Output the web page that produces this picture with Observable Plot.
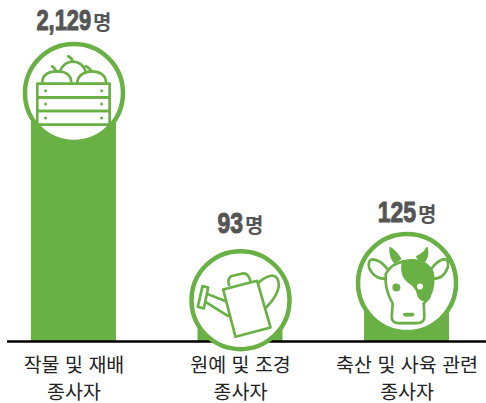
<!DOCTYPE html>
<html lang="ko">
<head>
<meta charset="utf-8">
<script src="https://cdn.jsdelivr.net/npm/d3@7"></script>
<script src="https://cdn.jsdelivr.net/npm/@observablehq/plot@0.6"></script>
<style>html,body{margin:0;padding:0;background:#fff}svg{display:block}</style>
</head>
<body>
<div id="chart"></div>
<script>
const categories = ["작물 및 재배\n종사자", "원예 및 조경\n종사자", "축산 및 사육 관련\n종사자"];
const workers = [2129, 93, 125];
const unit = "명";

const green = "#69B045", grey = "#555555";
const rows = categories.map((category, i) => ({category, workers: workers[i]}));

function icon(viewBox, body) {
  const svg = `<svg xmlns="http://www.w3.org/2000/svg" viewBox="${viewBox}" width="300" height="300"><g fill="none" stroke="${green}" stroke-width="8" stroke-linejoin="round" stroke-linecap="round">${body}</g></svg>`;
  return "data:image/svg+xml;charset=utf-8," + encodeURIComponent(svg);
}
const dots = [[135,270],[303,270],[135,310],[303,310],[135,352],[303,352]]
  .map(([x, y]) => `<circle cx="${x}" cy="${y}" r="4.5" fill="${green}" stroke="none"/>`).join("");
const crate = icon("70 127 300 300", `
  <rect x="110" y="249" width="217" height="41"/><rect x="110" y="290" width="217" height="41"/><rect x="110" y="331" width="217" height="41"/>${dots}
  <path d="M125 245C125 222 145 212 168 212C192 212 212 222 212 245"/>
  <path d="M178 212C186 192 200 183 216 183C234 183 248 192 255 212"/>
  <path d="M230 245C232 224 252 212 274 212C298 212 316 224 316 245"/>
  <path d="M155 197Q163 203 166 212M203 167Q214 172 216 183M255 197Q268 202 272 212"/>`);
const can = icon("60 148 300 300", `
  <path d="M158 266L260 240L300 380L195 408Z"/>
  <path d="M176 253Q168 228 190 224L216 218Q234 216 240 242"/>
  <path d="M265 245Q285 226 305 224Q325 226 325 255Q322 285 285 322"/>
  <path d="M162 300L112 280M172 345L106 304"/>
  <path d="M96 256L113 260L100 323L82 318Z"/>`);
const cow = icon("48 127 300 300", `
  <path d="M148 172Q164 182 178 204L160 214Q146 196 148 172Z" fill="${green}" stroke-width="6"/>
  <path d="M258 172Q248 190 228 198L244 216Q264 202 258 172Z" fill="${green}" stroke-width="6"/>
  <path d="M142 238Q118 206 94 206Q80 208 84 230Q98 264 132 264"/>
  <path d="M268 238Q290 206 312 205Q324 208 320 230Q308 264 276 264"/>
  <path d="M186 212Q250 198 274 244Q284 278 262 324Q240 334 232 312Q228 290 208 276Q178 258 186 212Z" fill="${green}"/>
  <path d="M134 250Q150 218 190 212M134 250Q130 296 155 338L152 378Q152 397 172 397L228 397Q250 397 250 378L248 338Q262 326 266 316"/>
  <circle cx="166" cy="290" r="8" fill="${green}"/>
  <circle cx="237" cy="287" r="9" fill="#fff" stroke="none"/>
  <rect x="186" y="366" width="34" height="11" rx="5.5" fill="${green}" stroke="none"/>`);

const icons = [crate, can, cow];
const badgeOffsets = [-7.5, 9, 0];
const labelOffsets = [-74, -61, -64];

function styleValue(index, scales, values, dimensions, context, next) {
  const g = next(index, scales, values, dimensions, context);
  d3.select(g).selectAll("text").each(function() {
    const t = d3.select(this), s = t.text(), n = s.slice(0, -1);
    const digits = n.replace(/\D/g, "").length, commas = n.length - digits;
    t.text(null);
    t.append("tspan").attr("font-family", "'Liberation Sans',sans-serif")
      .attr("font-size", 29).attr("font-weight", 700)
      .attr("textLength", digits * 12.8 + commas * 3.5).attr("lengthAdjust", "spacingAndGlyphs").text(n);
    t.append("tspan").attr("dx", 2).attr("font-family", "'Noto Sans CJK KR',sans-serif")
      .attr("font-size", 20).attr("font-weight", 700).attr("stroke-width", 0).text(s.slice(-1));
  });
  return g;
}

const chart = Plot.plot({
  width: 486,
  height: 403,
  marginTop: 0,
  marginLeft: 31,
  marginRight: 37,
  marginBottom: 62,
  style: {background: "#fff"},
  x: {domain: categories, paddingInner: 0.49, paddingOuter: 0, round: false, label: null},
  y: {type: "sqrt", domain: [0, 2129], range: [341, 100], axis: null},
  marks: [
    Plot.barY(rows, {x: "category", y: "workers", fill: green}),
    Plot.ruleY([0], {stroke: "#000", strokeWidth: 2.5, insetLeft: -24, insetRight: -37}),
    ...rows.flatMap((d, i) => [
      Plot.dot([d], {x: "category", y: "workers", dy: badgeOffsets[i], r: 49, fill: "#fff", stroke: green, strokeWidth: 4.5}),
      Plot.image([d], {x: "category", y: "workers", dy: badgeOffsets[i], width: 100, height: 100, src: () => icons[i]}),
      Plot.text([d], {x: "category", y: "workers", dy: labelOffsets[i], text: r => d3.format(",")(r.workers) + unit,
        fill: grey, stroke: grey, strokeWidth: 1, paintOrder: "fill", textAnchor: "middle", render: styleValue})
    ]),
    Plot.axisX({anchor: "bottom", tickSize: 0, tickPadding: 11, fontSize: 19.5, lineHeight: 1.4, lineWidth: Infinity, label: null,
      fontFamily: "'Noto Sans CJK KR',sans-serif", fill: "#222", tickFormat: d => d})
  ]
});
document.getElementById("chart").append(chart);
</script>
</body>
</html>
